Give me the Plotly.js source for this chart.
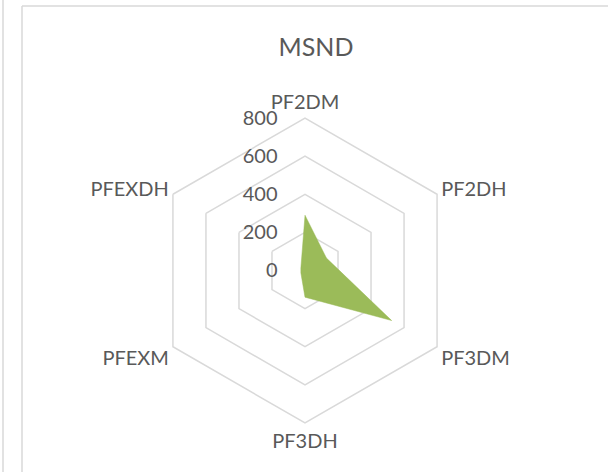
<!DOCTYPE html>
<html>
<head>
<meta charset="utf-8">
<script src="https://cdn.plot.ly/plotly-3.0.1.min.js"></script>
<style>html,body{margin:0;padding:0;background:#fff;}#chart{width:608px;height:472px;}</style>
</head>
<body>
<div id="chart"></div>
<script>
const categories = ['PF2DM', 'PF2DH', 'PF3DM', 'PF3DH', 'PFEXM', 'PFEXDH'];
const msndValues = [290, 130, 525, 140, 25, 25];
const radialTicks = [0, 200, 400, 600, 800];
const chartTitle = 'MSND';

const W = 608, H = 472;
const cx = 305, cy = 270.5, R = 152.5;

const trace = {
  type: 'scatterpolar',
  r: msndValues.concat([msndValues[0]]),
  theta: categories.concat([categories[0]]),
  mode: 'lines',
  fill: 'toself',
  fillcolor: '#9bbb59',
  line: {color: '#9bbb59', width: 0.5},
  hoverinfo: 'skip',
  showlegend: false
};

const layout = {
  width: W, height: H,
  margin: {l: 0, r: 0, t: 0, b: 0},
  paper_bgcolor: '#ffffff',
  font: {family: 'Lato, "Open Sans", sans-serif', color: '#595959', size: 20},
  title: {
    text: chartTitle,
    x: 316 / W, xanchor: 'center',
    y: 1 - 47 / H, yanchor: 'middle',
    font: {family: 'Lato, sans-serif', size: 25, color: '#595959'}
  },
  showlegend: false,
  polar: {
    domain: {x: [(cx - R) / W, (cx + R) / W], y: [(H - cy - R) / H, (H - cy + R) / H]},
    gridshape: 'linear',
    bgcolor: 'rgba(0,0,0,0)',
    angularaxis: {
      type: 'category',
      categoryarray: categories,
      direction: 'clockwise',
      rotation: 90,
      showgrid: false,
      showline: true,
      linecolor: '#d9d9d9',
      linewidth: 1.5,
      ticks: '',
      tickfont: {family: 'Lato, sans-serif', size: 20, color: '#595959'}
    },
    radialaxis: {
      range: [0, 800],
      tickvals: radialTicks,
      ticktext: radialTicks.map(String),
      angle: 90,
      side: 'counterclockwise',
      tickangle: 90,
      showline: false,
      showgrid: true,
      gridcolor: '#d9d9d9',
      gridwidth: 1.5,
      ticks: 'outside',
      ticklen: 20,
      tickcolor: 'rgba(0,0,0,0)',
      tickfont: {family: 'Lato, sans-serif', size: 20, color: '#595959'}
    }
  },
  shapes: [
    {type: 'line', xref: 'paper', yref: 'paper', x0: 3 / W, x1: 3 / W, y0: 0, y1: 1,
     line: {color: '#d9d9d9', width: 1.5}},
    {type: 'line', xref: 'paper', yref: 'paper', x0: 22 / W, x1: 22 / W, y0: 0, y1: 1 - 6 / H,
     line: {color: '#d9d9d9', width: 1.5}},
    {type: 'line', xref: 'paper', yref: 'paper', x0: 22 / W, x1: 1, y0: 1 - 6 / H, y1: 1 - 6 / H,
     line: {color: '#d9d9d9', width: 1.5}}
  ]
};

Plotly.newPlot('chart', [trace], layout, {staticPlot: true, displayModeBar: false});
</script>
</body>
</html>
